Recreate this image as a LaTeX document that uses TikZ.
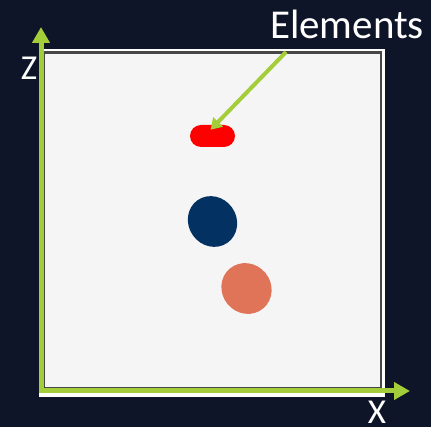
\documentclass[tikz,border=0pt]{standalone}
\usepackage{fontspec}
\setmainfont{Carlito}
\usetikzlibrary{arrows.meta}
\definecolor{bgnavy}{HTML}{0E1528}
\definecolor{axgreen}{HTML}{A3CD39}
\definecolor{blobnavy}{HTML}{023162}
\definecolor{blobsalmon}{HTML}{E07459}
\tikzset{axis/.style={axgreen,line width=5pt,-{Triangle[length=16pt,width=17pt]}},
  lbl/.style={white,inner sep=0pt,font=\fontsize{35}{40}\selectfont}}
\begin{document}
\begin{tikzpicture}[x=1pt,y=-1pt]
\fill[bgnavy] (0,0) rectangle (431,427);
\useasboundingbox (0,0) rectangle (431,427);
% plot frame
\fill[white] (39,49) rectangle (385,397);
\fill[black!72] (43,51) rectangle (382,389);
\fill[black!4] (45,54) rectangle (380,387);
% elements
\node[fill=red,rounded corners=11pt,minimum width=45pt,minimum height=22pt,inner sep=0pt] (elred) at (212.5,136) {};
\fill[blobnavy] (212.5,221.5) ellipse[x radius=26,y radius=24,rotate=-55];
\fill[blobsalmon] (246.5,288.5) ellipse[x radius=26,y radius=24.5,rotate=-50];
% axes
\coordinate (origin) at (41,391);
\coordinate (ztip) at (41,27); \coordinate (xtip) at (410,391);
\draw[axis] ([yshift=2.5pt]origin) -- (ztip);
\draw[axis] ([xshift=-2.5pt]origin) -- (xtip);
\node[lbl] (zlbl) at (29,68) {Z};
\node[lbl] (xlbl) at (377,412) {X};
\node[lbl,font=\fontsize{41}{46}\selectfont] (ellbl) at (347,24) {Elements};
\coordinate (elstart) at (286,52);
\draw[axgreen,line width=4pt,-{Triangle[length=11pt,width=13pt]}] (elstart) -- ([xshift=-2pt,yshift=-5pt]elred.north);
\end{tikzpicture}
\end{document}
